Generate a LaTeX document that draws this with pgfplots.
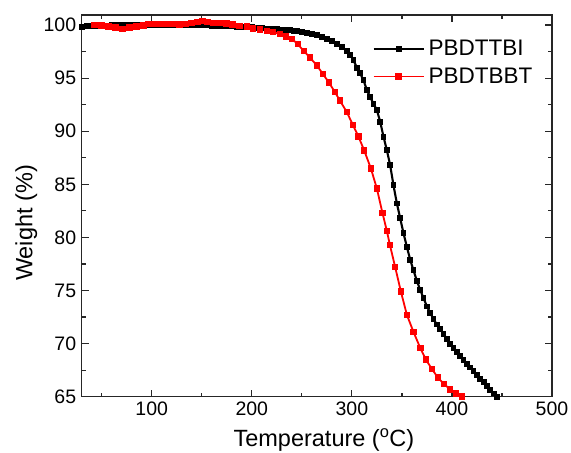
\documentclass[border=0pt]{standalone}
\usepackage{pgfplots}
\pgfplotsset{compat=1.18}
\usepackage{fontspec}
\setmainfont{Liberation Sans}
\begin{document}
\begin{tikzpicture}
\useasboundingbox (-81.7pt,-56.3pt) rectangle (489.3pt,396.7pt);
\begin{axis}[
  at={(0pt,0pt)}, anchor=south west,
  scale only axis,
  width=470.3pt, height=381.7pt,
  xmin=30, xmax=500, ymin=65, ymax=100.95,
  xtick={100,200,300,400,500},
  minor xtick={50,150,250,350,450},
  ytick={65,70,75,80,85,90,95,100},
  minor ytick={67.5,72.5,77.5,82.5,87.5,92.5,97.5},
  tick align=inside,
  major tick length=7pt,
  minor tick length=4pt,
  tick style={line width=1.2pt, color=black!85},
  axis line style={line width=1.4pt, color=black!85},
  /pgf/number format/assume math mode=true,
  ticklabel style={font=\fontsize{19.5}{20}\selectfont},
  xticklabel style={yshift=-2pt},
  yticklabel style={xshift=-2pt},
  xlabel={Temperature (\textsuperscript{o}C)},
  ylabel={Weight (\%)},
  label style={font=\fontsize{23.5}{26}\selectfont},
  xlabel style={at={(axis description cs:0.515,-0.113)}, anchor=center},
  ylabel style={at={(axis description cs:-0.118,0.455)}, anchor=center},
  legend style={at={(axis description cs:0.618,0.94)}, anchor=north west,
    draw=none, fill=none, font=\fontsize{22.5}{24}\selectfont,
    inner sep=0pt, row sep=7pt,
    /tikz/every odd column/.append style={column sep=2pt}},
  legend cell align=left,
  legend image code/.code={\draw[#1, mark repeat=2, mark phase=2] plot coordinates {(0pt,0pt) (25pt,0pt) (50pt,0pt)};},
]
\addplot[black, line width=2.1pt, mark=square*, mark size=1.9pt, mark options={solid}] coordinates {
(30,99.85) (35,99.9) (40,99.9) (45,99.95) (50,99.95) (55,99.95) (60,100.0) (65,100.0)
(70,100.0) (75,100.0) (80,100.0) (85,100.0) (90,100.0) (95,100.0) (100,100.0) (105,100.0)
(110,100.0) (115,100.0) (120,100.0) (125,100.0) (130,100.0) (135,100.0) (140,100.0) (145,100.0)
(150,100.0) (155,99.98) (160,99.95) (165,99.94) (170,99.92) (175,99.9) (180,99.88) (185,99.86)
(190,99.85) (195,99.82) (200,99.8) (205,99.76) (210,99.72) (215,99.68) (220,99.65) (225,99.61)
(230,99.57) (234,99.54) (238,99.5) (242,99.46) (245,99.42) (250,99.35) (255,99.28) (260,99.2)
(265,99.05) (270,98.9) (275,98.7) (280,98.5) (285,98.25) (290,97.95) (295,97.55) (298.3,97.2)
(301.6,96.7) (305,96.0) (308.3,95.45) (311.6,94.8) (315,93.9) (318.3,93.2) (321.6,92.6) (325,92.0)
(328.3,90.9) (331.6,89.5) (335,88.2) (338.3,86.8) (341.6,84.9) (345,83.2) (348.3,81.8) (351.6,80.4)
(355,79.1) (358.3,77.9) (361.6,76.9) (365,75.9) (368.3,75.05) (371.6,74.3) (375,73.5) (378.3,72.9)
(381.6,72.3) (385,71.8) (388.3,71.35) (391.6,70.9) (395,70.45) (398.3,70.0) (401.6,69.6) (405,69.25)
(408.3,68.85) (411.6,68.45) (415,68.1) (418.3,67.75) (421.6,67.4) (425,67.05) (428.3,66.7) (431.6,66.35)
(435,66.0) (438.3,65.65) (441.6,65.3) (445,65.0)
};
\addlegendentry{PBDTTBI}
\addplot[red, line width=1.8pt, mark=square*, mark size=2.4pt, mark options={solid}] coordinates {
(43,100.0) (50,99.95) (57,99.85) (64,99.8) (71,99.65) (78,99.75) (85,99.85) (92,99.95)
(97,100.1) (103,100.1) (110,100.1) (116,100.1) (122,100.1) (128,100.05) (134,100.1) (140,100.2)
(146,100.3) (151,100.4) (156,100.3) (162,100.2) (168,100.2) (175,100.15) (181,100.05) (188,99.9)
(195,99.85) (201,99.7) (208,99.6) (215,99.45) (221,99.35) (228,99.15) (234,98.95) (240,98.7)
(246,98.2) (252,97.55) (258,96.95) (265,96.2) (271,95.4) (277,94.6) (283,93.7) (288,92.9)
(295,91.8) (301,90.6) (306.6,89.5) (312.3,88.2) (319,86.5) (325,84.6) (330.6,82.3) (335,80.6)
(338,79.3) (343.3,77.2) (349,74.9) (355,72.7) (361.6,71.1) (368.3,69.6) (374,68.5) (380,67.6)
(386,66.8) (392,66.2) (398,65.7) (404,65.3) (410,65.0)
};
\addlegendentry{PBDTBBT}
\end{axis}
\end{tikzpicture}
\end{document}
